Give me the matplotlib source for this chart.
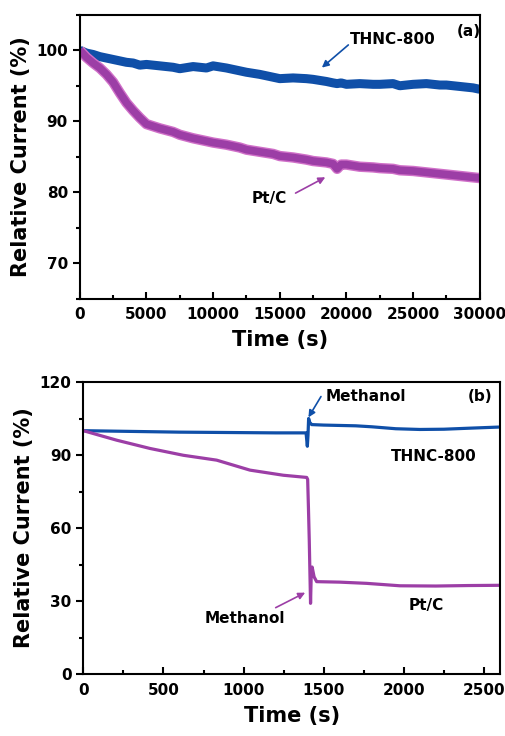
import matplotlib
matplotlib.use("Agg")
import matplotlib.pyplot as plt
from matplotlib.ticker import MultipleLocator

plt.rcParams['font.family'] = ['DejaVu Sans']
plt.rcParams['font.weight'] = 'bold'

# (a) chronoamperometric stability
t_a = [0, 500, 1000, 1500, 2000, 2500, 3000, 3500, 4000, 4500, 5000, 6000, 7000, 7500,
       8500, 9500, 10000, 11000, 12000, 12500, 13500, 14500, 15000, 16000, 17000, 17500,
       18500, 19000, 19300, 19600, 20000, 21000, 22000, 22500, 23500, 24000, 25000,
       26000, 27000, 27500, 28500, 29500, 30000]
thnc_a = [100.0, 99.6, 99.4, 99.1, 98.9, 98.7, 98.5, 98.3, 98.2, 97.9, 98.0, 97.8, 97.6, 97.4,
          97.7, 97.5, 97.8, 97.5, 97.1, 96.9, 96.6, 96.2, 96.0, 96.1, 96.0, 95.9,
          95.6, 95.4, 95.3, 95.4, 95.2, 95.3, 95.2, 95.2, 95.3, 95.0, 95.2,
          95.3, 95.1, 95.1, 94.9, 94.7, 94.5]
ptc_a = [100.0, 99.0, 98.2, 97.5, 96.6, 95.5, 94.0, 92.6, 91.5, 90.5, 89.6, 89.0, 88.5, 88.1,
         87.6, 87.2, 87.0, 86.7, 86.3, 86.0, 85.7, 85.4, 85.1, 84.9, 84.6, 84.4,
         84.2, 84.0, 83.3, 83.9, 83.9, 83.6, 83.5, 83.4, 83.3, 83.1, 83.0,
         82.8, 82.6, 82.5, 82.3, 82.1, 82.0]

# (b) methanol crossover
t_b_thnc = [0, 200, 400, 600, 800, 1000, 1200, 1390, 1398, 1402, 1406, 1412, 1425,
            1500, 1700, 1800, 1950, 2100, 2250, 2400, 2600]
thnc_b = [100.0, 99.8, 99.6, 99.4, 99.3, 99.2, 99.1, 99.1, 93.6, 98.0, 105.0, 103.5, 102.5,
          102.3, 102.0, 101.6, 100.8, 100.5, 100.6, 101.0, 101.5]
t_b_ptc = [0, 208, 416, 624, 832, 1040, 1248, 1394, 1400, 1405, 1410, 1414, 1418, 1422,
           1428, 1440, 1456, 1600, 1768, 1976, 2200, 2400, 2600]
ptc_b = [100.0, 96.1, 92.7, 89.9, 87.9, 83.8, 81.7, 80.8, 80.0, 68.0, 55.0, 42.0, 29.1, 40.0,
         44.0, 40.0, 38.0, 37.8, 37.3, 36.3, 36.2, 36.4, 36.5]

blue = '#0f4fa8'
purple = '#9c3ea6'

fig = plt.figure(figsize=(5.05, 7.36), dpi=100)
ax1 = fig.add_axes([0.158, 0.594, 0.792, 0.386])
ax2 = fig.add_axes([0.165, 0.084, 0.825, 0.397])

ax1.plot(t_a, thnc_a, color=blue, lw=6.5, solid_capstyle='butt')
ax1.plot(t_a, ptc_a, color='#d070c8', lw=7.5, solid_capstyle='butt')
ax1.plot(t_a, ptc_a, color=purple, lw=5.5, solid_capstyle='butt')
ax1.set_xlim(0, 30000)
ax1.set_ylim(65, 105)
ax1.xaxis.set_major_locator(MultipleLocator(5000))
ax1.xaxis.set_minor_locator(MultipleLocator(2500))
ax1.yaxis.set_major_locator(MultipleLocator(10))
ax1.yaxis.set_minor_locator(MultipleLocator(5))
ax1.set_xlabel('Time (s)', fontsize=15, fontweight='bold', labelpad=6)
ax1.set_ylabel('Relative Current (%)', fontsize=15, fontweight='bold', labelpad=4)
ax1.text(20250, 101.5, 'THNC-800', fontsize=11, fontweight='bold', va='center')
ax1.annotate('', xy=(18000, 97.3), xytext=(20300, 101.0),
             arrowprops=dict(arrowstyle='-|>', color=blue, lw=1.2, mutation_scale=10))
ax1.text(28300, 102.7, '(a)', fontsize=11, fontweight='bold', va='center')
ax1.text(12900, 79.1, 'Pt/C', fontsize=11, fontweight='bold', va='center')
ax1.annotate('', xy=(18600, 82.3), xytext=(16000, 79.7),
             arrowprops=dict(arrowstyle='-|>', color=purple, lw=1.2, mutation_scale=10))

ax2.plot(t_b_thnc, thnc_b, color=blue, lw=2.3)
ax2.plot(t_b_ptc, ptc_b, color=purple, lw=2.3)
ax2.set_xlim(0, 2600)
ax2.set_ylim(0, 120)
ax2.xaxis.set_major_locator(MultipleLocator(500))
ax2.xaxis.set_minor_locator(MultipleLocator(250))
ax2.yaxis.set_major_locator(MultipleLocator(30))
ax2.yaxis.set_minor_locator(MultipleLocator(15))
ax2.set_xlabel('Time (s)', fontsize=15, fontweight='bold', labelpad=6)
ax2.set_ylabel('Relative Current (%)', fontsize=15, fontweight='bold', labelpad=4)
ax2.text(1514, 114.1, 'Methanol', fontsize=11, fontweight='bold', va='center')
ax2.annotate('', xy=(1396, 104.5), xytext=(1492, 115.0),
             arrowprops=dict(arrowstyle='-|>', color=blue, lw=1.2, mutation_scale=10))
ax2.text(2400, 114.1, '(b)', fontsize=11, fontweight='bold', va='center')
ax2.text(1920, 89.2, 'THNC-800', fontsize=11, fontweight='bold', va='center')
ax2.text(2030, 28.0, 'Pt/C', fontsize=11, fontweight='bold', va='center')
ax2.text(760, 22.7, 'Methanol', fontsize=11, fontweight='bold', va='center')
ax2.annotate('', xy=(1400, 34.0), xytext=(1185, 26.8),
             arrowprops=dict(arrowstyle='-|>', color=purple, lw=1.2, mutation_scale=10))

for ax in (ax1, ax2):
    for s in ax.spines.values():
        s.set_linewidth(1.5)
    ax.tick_params(axis='x', which='both', direction='in', labelsize=11, width=1.5, pad=6)
    ax.tick_params(axis='y', which='both', direction='out', labelsize=11, width=1.5)
    ax.tick_params(which='major', length=5)
    ax.tick_params(which='minor', length=3)
    for lab in ax.get_xticklabels() + ax.get_yticklabels():
        lab.set_fontweight('bold')

fig.savefig('out.png', dpi=100)
